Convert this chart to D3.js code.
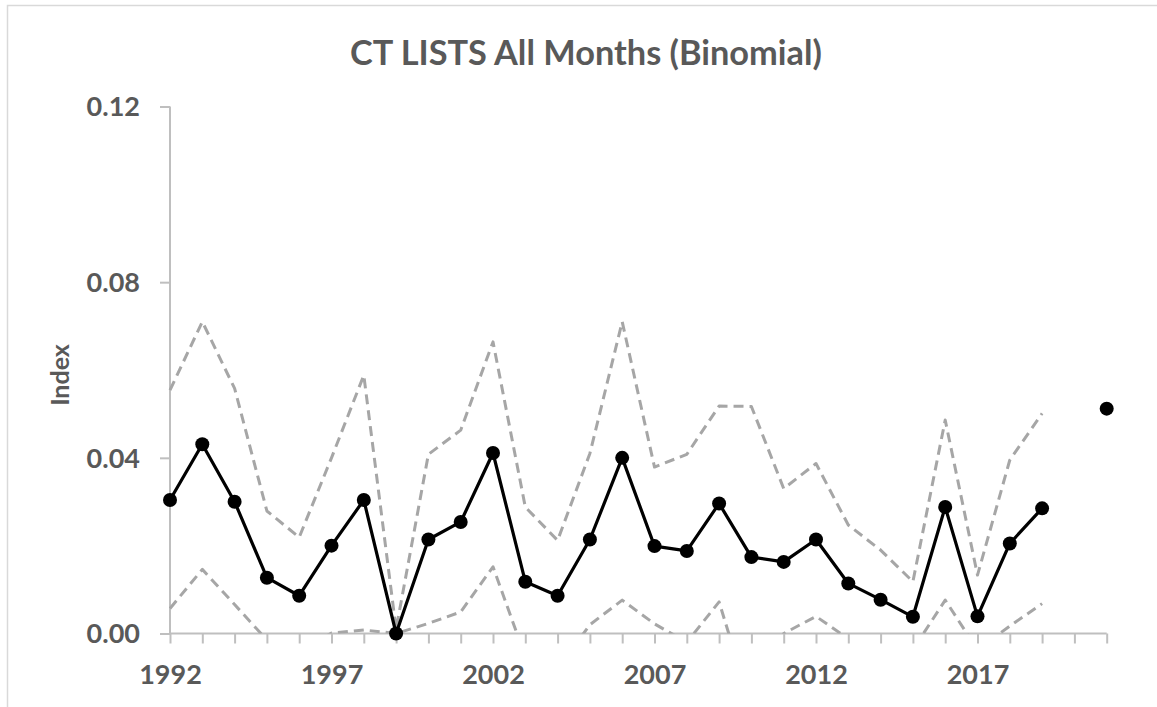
<!DOCTYPE html>
<html>
<head>
<meta charset="utf-8">
<script src="https://cdn.jsdelivr.net/npm/d3@7"></script>
<style>
  html, body { margin: 0; padding: 0; background: #fff; }
  svg { display: block; }
  text { font-family: Lato, "Open Sans", sans-serif; font-weight: bold; fill: #595959; }
</style>
</head>
<body>
<svg id="chart" width="1157" height="707"></svg>
<script>
// ---- data ----
const years = [1992,1993,1994,1995,1996,1997,1998,1999,2000,2001,2002,2003,2004,2005,2006,2007,2008,2009,2010,2011,2012,2013,2014,2015,2016,2017,2018,2019,2020,2021];
const indexValues = [0.0304,0.0431,0.0300,0.0127,0.0086,0.0200,0.0304,0.0000,0.0214,0.0254,0.0411,0.0118,0.0086,0.0214,0.0400,0.0199,0.0188,0.0296,0.0174,0.0163,0.0214,0.0114,0.0077,0.0038,0.0288,0.0039,0.0205,0.0285,null,0.0512];
const upperValues = [0.0554,0.0710,0.0558,0.0279,0.0219,0.0400,0.0588,0.0010,0.0408,0.0463,0.0664,0.0288,0.0212,0.0410,0.0710,0.0379,0.0408,0.0518,0.0517,0.0330,0.0387,0.0247,0.0190,0.0118,0.0486,0.0133,0.0395,0.0501,null,null];
const lowerValues = [0.0057,0.0146,0.0066,-0.0015,-0.0040,0.0001,0.0008,0.0000,0.0023,0.0049,0.0152,-0.0053,-0.0080,0.0020,0.0076,0.0022,-0.0020,0.0072,-0.0169,0.0000,0.0039,-0.0012,-0.0060,-0.0037,0.0076,-0.0037,0.0017,0.0068,null,null];
const yTicks = [0, 0.04, 0.08, 0.12];
const xTickLabels = [1992, 1997, 2002, 2007, 2012, 2017];
const titleText = "CT LISTS All Months (Binomial)";
const yTitle = "Index";

// ---- layout ----
const svg = d3.select("#chart");
const pLeft = 170, pRight = 1106.7, pTop = 106.5, pBottom = 633.5;

const x = d3.scaleLinear().domain([1992, 2021]).range([pLeft, pRight]);
const y = d3.scaleLinear().domain([0, 0.12]).range([pBottom, pTop]);

// outer border
svg.append("path")
  .attr("d", `M7.5,707 L7.5,5.5 L1157,5.5`)
  .attr("fill", "none").attr("stroke", "#d9d9d9").attr("stroke-width", 1.5);

// title
const title = svg.append("text")
  .attr("x", 586).attr("y", 51)
  .attr("text-anchor", "middle").attr("dominant-baseline", "central")
  .style("font-size", "30px")
  .text(titleText);
(function fit(t, target){ const w = t.node().getComputedTextLength(); const fs = parseFloat(t.style("font-size")); t.style("font-size", (fs*target/w) + "px"); })(title, 472);

// axes
const axisColor = "#bfbfbf";
const yAxis = svg.append("g").attr("transform", `translate(${pLeft},0)`)
  .call(d3.axisLeft(y).tickValues(yTicks).tickFormat(d3.format(".2f")).tickSize(10).tickPadding(20));
const xAxis = svg.append("g").attr("transform", `translate(0,${pBottom})`)
  .call(d3.axisBottom(x).tickValues(years).tickSize(10).tickSizeOuter(0).tickFormat(d => xTickLabels.includes(d) ? d : "").tickPadding(21));
[xAxis, yAxis].forEach(g => {
  g.select(".domain").attr("stroke", axisColor).attr("stroke-width", 2);
  g.selectAll(".tick line").attr("stroke", axisColor).attr("stroke-width", 2);
  g.selectAll(".tick text").style("font-family", "Lato, 'Open Sans', sans-serif").style("font-weight", "bold")
    .style("font-size", "27px").attr("fill", "#595959");
});
xAxis.select(".domain").attr("d", `M${pLeft},0H${pRight}`);
yAxis.select(".domain").attr("d", `M0,${pBottom}V${pTop}`);
yAxis.selectAll(".tick text").attr("dy", "0.35em");
xAxis.selectAll(".tick text").attr("dy", "0.71em");

// y title
svg.append("text")
  .attr("transform", `translate(59,375) rotate(-90)`)
  .attr("text-anchor", "middle").attr("dominant-baseline", "central")
  .style("font-size", "25px")
  .text(yTitle);

// clip
svg.append("clipPath").attr("id", "plotclip")
  .append("rect").attr("x", pLeft - 2).attr("y", pTop).attr("width", pRight - pLeft + 4).attr("height", pBottom - pTop);

const mk = vals => d3.line().defined((d, i) => vals[i] !== null).x((d, i) => x(years[i])).y((d, i) => y(vals[i]));

const plot = svg.append("g").attr("clip-path", "url(#plotclip)");
[upperValues, lowerValues].forEach(vals => {
  plot.append("path").datum(vals).attr("d", mk(vals)(vals))
    .attr("fill", "none").attr("stroke", "#a6a6a6").attr("stroke-width", 3)
    .attr("stroke-dasharray", "10,6").attr("stroke-linejoin", "round");
});

svg.append("path").datum(indexValues).attr("d", mk(indexValues)(indexValues))
  .attr("fill", "none").attr("stroke", "#000").attr("stroke-width", 3.2).attr("stroke-linejoin", "round");

svg.append("g").selectAll("circle")
  .data(years.map((yr, i) => ({yr, v: indexValues[i]})).filter(d => d.v !== null))
  .join("circle")
  .attr("cx", d => x(d.yr)).attr("cy", d => y(d.v)).attr("r", 7)
  .attr("fill", "#000");
</script>
</body>
</html>
